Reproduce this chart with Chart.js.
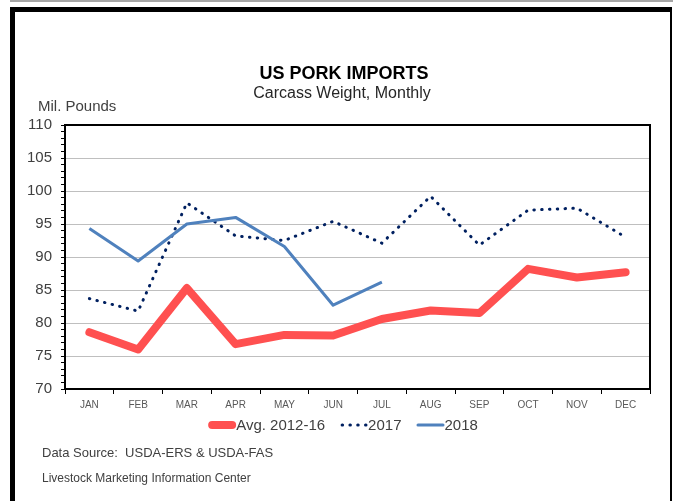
<!DOCTYPE html>
<html>
<head>
<meta charset="utf-8">
<script src="https://cdn.jsdelivr.net/npm/chart.js@4.4.1/dist/chart.umd.min.js"></script>
<style>
  body { margin: 0; background: #fff; }
  #wrap { position: relative; width: 673px; height: 501px; overflow: hidden; }
  .topline { position: absolute; left: 10px; top: 0; width: 663px; height: 2px; background: #a6a6a6; }
  .frame { position: absolute; left: 10px; top: 7px; width: 655px; height: 520px;
           border-top: 5px solid #000; border-left: 5px solid #000; border-right: 2px solid #000; }
  canvas { position: absolute; left: 0; top: 0; }
</style>
</head>
<body>
<div id="wrap">
  <div class="topline"></div>
  <div class="frame"></div>
  <canvas id="grafico" width="673" height="501"></canvas>
</div>
<script>
// datos (millones de libras)
var meses = ['JAN', 'FEB', 'MAR', 'APR', 'MAY', 'JUN', 'JUL', 'AUG', 'SEP', 'OCT', 'NOV', 'DEC'];
var promedio1216 = [78.6, 76.0, 85.3, 76.8, 78.2, 78.1, 80.6, 81.9, 81.5, 88.2, 86.9, 87.7];
var datos2017 = [83.7, 81.8, 98.2, 93.2, 92.5, 95.4, 92.1, 99.2, 91.8, 97.1, 97.4, 93.0];
var datos2018 = [94.3, 89.4, 95.0, 96.0, 91.6, 82.7, 86.2];
var etiquetasSerie = ['Avg. 2012-16', '2017', '2018'];
var ejeY = { min: 70, max: 110, paso: 5 };

var fuente = "'Liberation Sans', Arial, sans-serif";

// textos, leyenda y marco del area de graficado
var textosPlugin = {
    id: 'textos',
    beforeDatasetsDraw: function (chart) {
        var ctx = chart.ctx, a = chart.chartArea;
        ctx.save();
        ctx.strokeStyle = '#000';
        ctx.lineWidth = 2;
        ctx.strokeRect(a.left, a.top, a.right - a.left, a.bottom - a.top);
        ctx.restore();
    },
    afterDraw: function (chart) {
        var ctx = chart.ctx;
        ctx.save();
        ctx.textBaseline = 'alphabetic';
        ctx.textAlign = 'center';
        ctx.fillStyle = '#000';
        ctx.font = 'bold 18px ' + fuente;
        ctx.fillText('US PORK IMPORTS', 344, 79);
        ctx.fillStyle = '#262626';
        ctx.font = '16px ' + fuente;
        ctx.fillText('Carcass Weight, Monthly', 342, 98);

        ctx.textAlign = 'left';
        ctx.fillStyle = '#404040';
        ctx.font = '15px ' + fuente;
        ctx.fillText('Mil. Pounds', 38, 111);

        // leyenda
        var sets = chart.data.datasets;
        ctx.font = '15px ' + fuente;
        var muestra = 28, sep = 15;
        var total = 0;
        sets.forEach(function (d, i) {
            total += muestra + ctx.measureText(d.label).width + (i < sets.length - 1 ? sep : 0);
        });
        var x = 343 - total / 2, y = 425;
        ctx.textBaseline = 'middle';
        sets.forEach(function (d) {
            ctx.save();
            ctx.strokeStyle = d.borderColor;
            ctx.lineWidth = d.borderWidth;
            ctx.lineCap = 'round';
            ctx.setLineDash(d.borderDash || []);
            ctx.beginPath();
            if (d.borderDash) {
                ctx.moveTo(x + 2, y);
                ctx.lineTo(x + muestra, y);
            } else {
                ctx.moveTo(x + d.borderWidth / 2, y);
                ctx.lineTo(x + muestra - d.borderWidth / 2, y);
            }
            ctx.stroke();
            ctx.restore();
            ctx.fillStyle = '#404040';
            ctx.fillText(d.label, x + muestra, y + 1);
            x += muestra + ctx.measureText(d.label).width + sep;
        });

        ctx.textBaseline = 'alphabetic';
        ctx.fillStyle = '#404040';
        ctx.font = '13px ' + fuente;
        ctx.fillText('Data Source:  USDA-ERS & USDA-FAS', 42, 457);
        ctx.font = '12px ' + fuente;
        ctx.fillText('Livestock Marketing Information Center', 42, 482);
        ctx.restore();
    }
};

var ctx = document.getElementById('grafico');
new Chart(ctx, {
    type: 'line',
    data: {
        labels: meses,
        datasets: [{
            label: etiquetasSerie[0],
            data: promedio1216,
            borderColor: '#FF5050',
            backgroundColor: '#FF5050',
            borderWidth: 8,
            borderJoinStyle: 'round',
            borderCapStyle: 'round',
            pointRadius: 0,
            tension: 0,
            order: 3
        }, {
            label: etiquetasSerie[1],
            data: datos2017,
            borderColor: '#002060',
            backgroundColor: '#002060',
            borderWidth: 3,
            borderDash: [0.5, 7.3],
            borderCapStyle: 'round',
            pointRadius: 0,
            tension: 0,
            order: 2
        }, {
            label: etiquetasSerie[2],
            data: datos2018,
            borderColor: '#4F81BD',
            backgroundColor: '#4F81BD',
            borderWidth: 3,
            borderJoinStyle: 'round',
            pointRadius: 0,
            tension: 0,
            order: 1
        }]
    },
    options: {
        responsive: false,
        animation: false,
        devicePixelRatio: 1,
        layout: { padding: { top: 125, right: 23, bottom: 82, left: 0 } },
        plugins: {
            legend: { display: false },
            title: { display: false },
            tooltip: { enabled: false }
        },
        scales: {
            x: {
                type: 'category',
                offset: true,
                afterFit: function (s) { s.height = 30; },
                grid: {
                    offset: true,
                    drawOnChartArea: false,
                    drawTicks: true,
                    tickLength: 5,
                    tickColor: '#000'
                },
                border: { color: '#000', width: 2 },
                ticks: {
                    color: '#595959',
                    font: { family: fuente, size: 10 },
                    padding: 5,
                    maxRotation: 0,
                    autoSkip: false
                }
            },
            y: {
                min: ejeY.min,
                max: ejeY.max,
                afterFit: function (s) { s.width = 65; },
                grid: {
                    color: function (c) {
                        return c.tick && c.tick.value % ejeY.paso === 0 ? '#bfbfbf' : 'rgba(0,0,0,0)';
                    },
                    tickColor: '#000',
                    tickLength: 4,
                    lineWidth: 1
                },
                border: { color: '#000', width: 2 },
                ticks: {
                    stepSize: 1,
                    autoSkip: false,
                    color: '#404040',
                    padding: 9,
                    font: { family: fuente, size: 15 },
                    callback: function (v) { return v % ejeY.paso === 0 ? v : ''; }
                }
            }
        }
    },
    plugins: [textosPlugin]
});
</script>
</body>
</html>
